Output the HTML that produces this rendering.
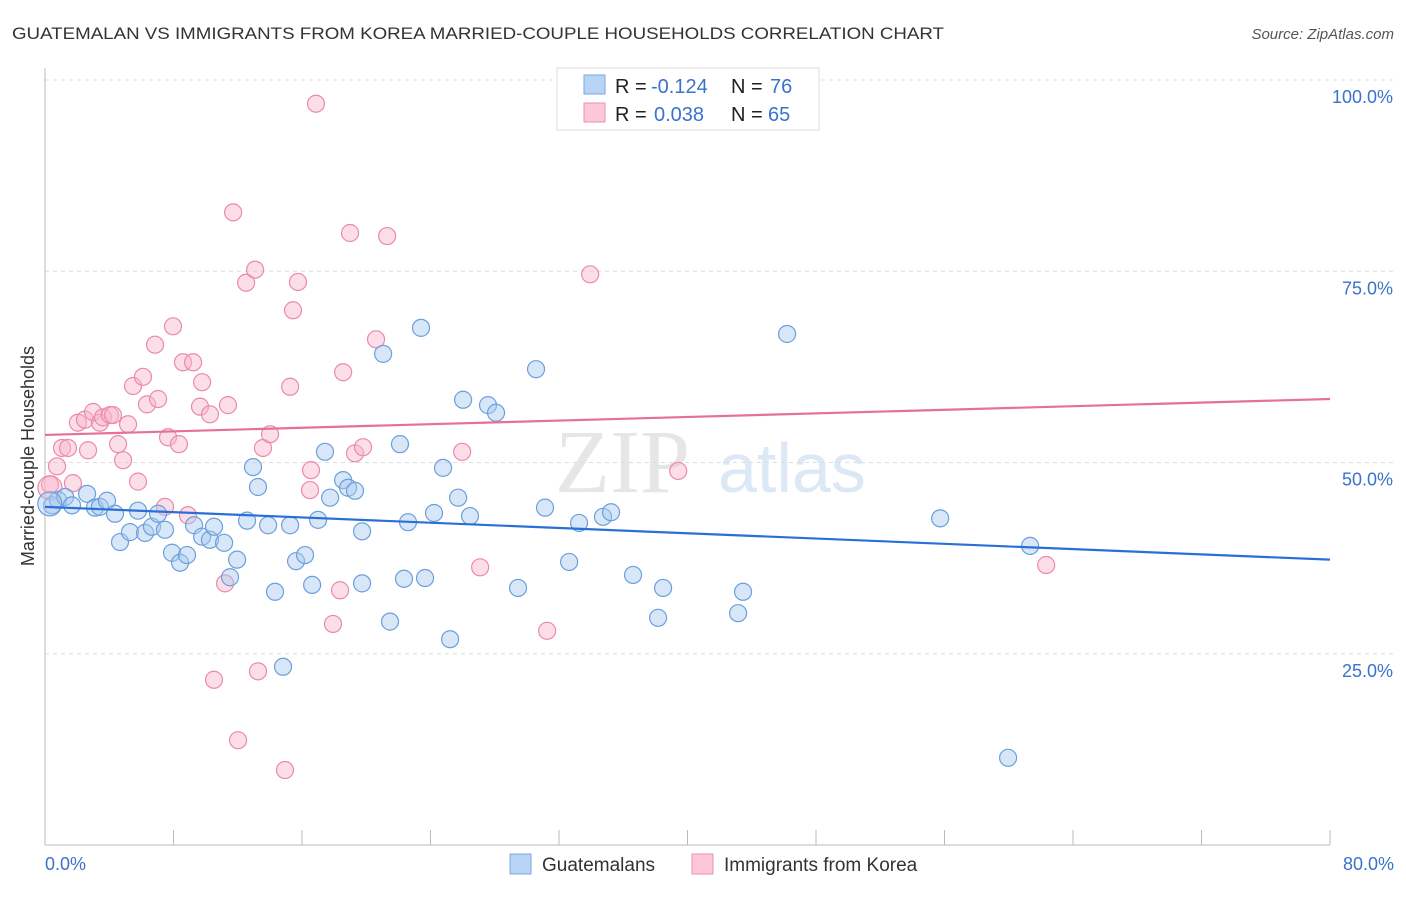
<!DOCTYPE html>
<html><head><meta charset="utf-8"><style>
body{margin:0;background:#fff;font-family:"Liberation Sans",sans-serif;}
</style></head><body>
<svg id="chart" width="1406" height="892" xmlns="http://www.w3.org/2000/svg" font-family="Liberation Sans, sans-serif">
<text x="12" y="39" font-size="17" fill="#333" textLength="932" lengthAdjust="spacingAndGlyphs">GUATEMALAN VS IMMIGRANTS FROM KOREA MARRIED-COUPLE HOUSEHOLDS CORRELATION CHART</text>
<text x="1394" y="39" font-size="15" fill="#555" font-style="italic" text-anchor="end">Source: ZipAtlas.com</text>
<text x="34" y="456" font-size="18" fill="#333" text-anchor="middle" transform="rotate(-90 34 456)">Married-couple Households</text>
<g><text x="555" y="492" font-size="90" fill="#e6e6e6" font-family="Liberation Serif, serif">ZIP</text><text x="718" y="492" font-size="70" fill="#dce8f5">atlas</text></g>
<g id="grid"></g><g id="ticks"></g><g id="pts"></g><g id="trends"></g>
<g>
<rect x="557" y="68" width="262" height="62" fill="#fff" stroke="#ddd"/>
<rect x="584" y="75" width="21" height="19" fill="#b8d4f5" stroke="#7aa7e0"/>
<rect x="584" y="103" width="21" height="19" fill="#fcc8d8" stroke="#ee90ad"/>
<text x="615" y="93" font-size="20" fill="#222">R = <tspan fill="#3a72cc" x="651">-0.124</tspan><tspan x="731">N = </tspan><tspan fill="#3a72cc" x="770">76</tspan></text>
<text x="615" y="121" font-size="20" fill="#222">R = <tspan fill="#3a72cc" x="654">0.038</tspan><tspan x="731">N = </tspan><tspan fill="#3a72cc" x="768">65</tspan></text>
</g>
<g>
<rect x="510" y="854" width="21" height="20" fill="#b8d4f5" stroke="#7aa7e0"/>
<text x="542" y="871" font-size="19" fill="#333">Guatemalans</text>
<rect x="692" y="854" width="21" height="20" fill="#fcc8d8" stroke="#ee90ad"/>
<text x="724" y="871" font-size="19" fill="#333">Immigrants from Korea</text>
</g>
</svg>
<script>
const yTicks=[25,50,75,100];
const yTickLabels=["25.0%","50.0%","75.0%","100.0%"];
const xTickLabels=["0.0%","80.0%"];
const blueX=[0.44,0.81,1.25,1.68,2.62,3.11,3.42,3.86,4.36,4.67,5.29,5.79,6.23,6.66,7.04,7.47,7.91,8.41,8.84,9.28,9.78,10.27,10.52,11.15,11.52,11.96,12.58,12.95,13.26,13.89,14.32,14.82,15.26,15.63,16.19,16.63,17.0,17.43,17.75,18.56,18.87,19.3,19.74,19.74,21.05,21.48,22.1,22.35,22.6,23.41,23.66,24.22,24.78,25.22,25.72,26.03,26.46,27.58,28.08,29.45,30.57,31.13,32.63,33.25,34.74,35.24,36.61,38.17,38.48,43.15,43.46,46.2,55.73,59.96,61.33,0.3];
const blueY=[44.4,45.1,45.5,44.4,45.9,44.1,44.2,45.0,43.3,39.6,40.9,43.7,40.8,41.6,43.3,41.2,38.2,36.9,37.9,41.8,40.3,39.9,41.6,39.5,35.0,37.3,42.4,49.4,46.8,41.8,33.1,23.3,41.8,37.1,37.9,34.0,42.5,51.4,45.4,47.7,46.7,46.3,41.0,34.2,64.2,29.2,52.4,34.8,42.2,67.6,34.9,43.4,49.3,26.9,45.4,58.2,43.0,57.5,56.5,33.6,62.2,44.1,37.0,42.1,42.9,43.5,35.3,29.7,33.6,30.3,33.1,66.8,42.7,11.4,39.1,44.6];
const pinkX=[0.31,0.75,1.06,1.43,1.74,2.05,2.49,2.68,2.99,3.42,3.61,4.05,4.23,4.55,4.86,5.17,5.48,5.79,6.1,6.35,6.85,7.04,7.47,7.66,7.97,8.34,8.59,8.9,9.22,9.65,9.78,10.27,10.52,11.21,11.39,11.71,12.02,12.52,13.08,13.26,13.57,14.01,14.94,15.26,15.44,15.75,16.5,16.56,16.87,17.93,18.37,18.56,18.99,19.3,19.8,20.61,21.3,25.97,27.09,31.26,33.94,39.42,62.33,0.31];
const pinkY=[47.1,49.5,51.9,51.9,47.3,55.2,55.6,51.6,56.6,55.2,55.9,56.2,56.2,52.4,50.3,55.0,60.0,47.5,61.2,57.6,65.4,58.3,44.2,53.3,67.8,52.4,63.1,43.1,63.1,57.3,60.5,56.3,21.6,34.2,57.5,82.7,13.7,73.5,75.2,22.7,51.9,53.7,9.8,59.9,69.9,73.6,46.4,49.0,96.9,28.9,33.3,61.8,80.0,51.2,52.0,66.1,79.6,51.4,36.3,28.0,74.6,48.9,36.6,46.7];
const blueTrend=[44.2,37.3];
const pinkTrend=[53.6,58.3];
const NS="http://www.w3.org/2000/svg";
const sx=v=>45+v/80*1285, sy=v=>845-v/100*765;
function mk(tag,attrs,parent){const e=document.createElementNS(NS,tag);for(const k in attrs)e.setAttribute(k,attrs[k]);document.getElementById(parent).appendChild(e);return e;}
yTicks.forEach((t,i)=>{
 const l=mk('line',{x1:45,x2:1394,y1:sy(t),y2:sy(t),stroke:'#ddd','stroke-dasharray':'4,4'},'grid');
 
 
 const tx=mk('text',{x:1393,y:sy(t)+23,'font-size':18,fill:'#3a72cc','text-anchor':'end'},'grid');tx.textContent=yTickLabels[i];
 
 
});
const ax=mk('line',{x1:45,x2:45,y1:68,y2:845,stroke:'#bbb'},'ticks');


const bx=mk('line',{x1:45,x2:1330,y1:845,y2:845,stroke:'#bbb'},'ticks');


for(let i=0;i<=10;i++){const t=mk('line',{x1:sx(i*8),x2:sx(i*8),y1:830,y2:845,stroke:'#bbb'},'ticks');
 
 }
[[0,'start',45],[80,'end',1394]].forEach((a,i)=>{const t=mk('text',{x:a[2],y:870,'font-size':18,fill:'#3a72cc','text-anchor':a[1]},'ticks');t.textContent=xTickLabels[i];
 
 });
function dots(X,Y,fill,stroke,name){X.forEach((x,i)=>{const c=mk('circle',{cx:sx(x),cy:sy(Y[i]),r:(i==X.length-1)?12:8.5,fill:fill,'fill-opacity':0.45,stroke:stroke,'stroke-width':1.2},'pts');
 
 });}
dots(pinkX,pinkY,'#f9b6cb','#eb8aab','korea-point');
dots(blueX,blueY,'#a9c9f0','#6b9fdc','guatemalan-point');
const bl=mk('line',{x1:sx(0),x2:sx(80),y1:sy(blueTrend[0]),y2:sy(blueTrend[1]),stroke:'#2a6fd6','stroke-width':2.2},'trends');


const pl=mk('line',{x1:sx(0),x2:sx(80),y1:sy(pinkTrend[0]),y2:sy(pinkTrend[1]),stroke:'#e5709a','stroke-width':2.2},'trends');


</script>
</body></html>
